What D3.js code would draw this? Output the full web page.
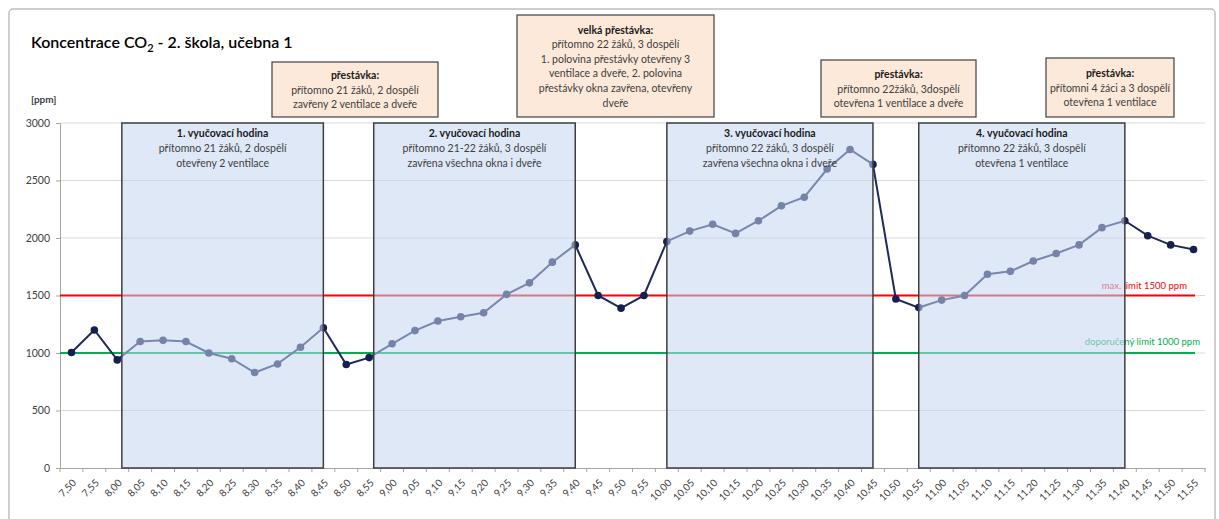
<!DOCTYPE html>
<html><head><meta charset="utf-8">
<script src="https://cdn.jsdelivr.net/npm/d3@7"></script>
<style>
html,body{margin:0;padding:0;background:#fff;}
svg{display:block;font-family:Lato,"Open Sans",sans-serif;}
</style></head>
<body><svg id="c" width="1219" height="519"></svg>
<script>
const categories = ["7,50","7,55","8,00","8,05","8,10","8,15","8,20","8,25","8,30","8,35","8,40","8,45","8,50","8,55",
  "9,00","9,05","9,10","9,15","9,20","9,25","9,30","9,35","9,40","9,45","9,50","9,55",
  "10,00","10,05","10,10","10,15","10,20","10,25","10,30","10,35","10,40","10,45","10,50","10,55",
  "11,00","11,05","11,10","11,15","11,20","11,25","11,30","11,35","11,40","11,45","11,50","11,55"];
const co2 = [1005,1200,940,1100,1110,1100,1000,950,830,905,1050,1220,900,960,
  1080,1195,1278,1315,1350,1510,1610,1790,1940,1500,1390,1500,
  1970,2060,2120,2040,2150,2280,2355,2600,2770,2640,1470,1395,
  1460,1500,1685,1710,1800,1865,1940,2090,2150,2020,1940,1900];
const yTicks = [0,500,1000,1500,2000,2500,3000];
const limitValues = [1500,1000];
const limitLabels = ["max. limit 1500 ppm","doporučený limit 1000 ppm"];
const lessonStart = ["8,01","8,56","10,00","10,55"];
const lessonEnd = ["8,45","9,40","10,45","11,40"];
const lessonTitles = ["1. vyučovací hodina","2. vyučovací hodina","3. vyučovací hodina","4. vyučovací hodina"];
const lessonText = [
  ["přítomno 21 žáků, 2 dospělí","otevřeny 2 ventilace"],
  ["přítomno 21-22 žáků, 3 dospělí","zavřena všechna okna i dveře"],
  ["přítomno 22 žáků, 3 dospělí","zavřena všechna okna i dveře"],
  ["přítomno 22 žáků, 3 dospělí","otevřena 1 ventilace"]];
const breakTitles = ["přestávka:","velká přestávka:","přestávka:","přestávka:"];
const breakText = [
  ["přítomno 21 žáků, 2 dospělí","zavřeny 2 ventilace a dveře"],
  ["přítomno 22 žáků, 3 dospělí","1. polovina přestávky otevřeny 3","ventilace a dveře, 2. polovina","přestávky okna zavřena, otevřeny","dveře"],
  ["přítomno 22žáků, 3dospělí","otevřena 1 ventilace a dveře"],
  ["přítomni 4 žáci a 3 dospělí","otevřena 1 ventilace"]];

// layout
const L = {left:60, right:1205, top:123, bottom:468};
const breakBoxes = [[272,62,166,55],[517,15,197,102],[821,60,155,57],[1046,58,128,59]];
const limitColors = ["#ff0000","#00b050"];

const svg = d3.select("#c");
svg.append("rect").attr("x",9).attr("y",9).attr("width",1206).attr("height",520)
  .attr("rx",4).attr("fill","#fff").attr("stroke","#bfbfbf").attr("stroke-width",1.5);

const x = d3.scaleBand().domain(categories).range([L.left,L.right]).padding(0);
const bw = x.bandwidth();
const cx = c => x(c)+bw/2;
const toMin = s => { const [h,m] = s.split(",").map(Number); return h*60+m; };
const m0 = toMin(categories[0]);
const tx = s => L.left + bw*((toMin(s)-m0)/5 + 0.5);
const y = d3.scaleLinear().domain([0,3000]).range([L.bottom,L.top]);

svg.append("g").selectAll("line").data(yTicks.filter(d=>d>0)).join("line")
  .attr("x1",L.left).attr("x2",L.right).attr("y1",d=>y(d)).attr("y2",d=>y(d))
  .attr("stroke","#d9d9d9").attr("stroke-width",1);

const ya = svg.append("g").attr("transform",`translate(${L.left},0)`)
  .call(d3.axisLeft(y).tickValues(yTicks).tickSize(4).tickFormat(d3.format("d")));
ya.select(".domain").attr("stroke","#a6a6a6");
ya.selectAll(".tick line").attr("stroke","#a6a6a6");
ya.selectAll("text").attr("fill","#404040").attr("font-size",10.5).attr("font-family","Lato").attr("dx",-3);

const xa = svg.append("g").attr("transform",`translate(0,${L.bottom})`)
  .call(d3.axisBottom(x).tickSize(0));
xa.select(".domain").attr("stroke","#a6a6a6");
xa.selectAll(".tick line").remove();
xa.append("g").selectAll("line").data(d3.range(categories.length+1)).join("line")
  .attr("x1",i=>L.left+i*bw).attr("x2",i=>L.left+i*bw).attr("y1",0).attr("y2",4)
  .attr("stroke","#a6a6a6");
xa.selectAll(".tick text").attr("fill","#404040").attr("font-size",10).attr("font-family","Lato")
  .attr("text-anchor","end").attr("transform","translate(3,13) rotate(-45)").attr("dy","0.35em").attr("y",0);

limitValues.forEach((v,i)=>{
  svg.append("line").attr("x1",L.left).attr("x2",1195).attr("y1",y(v)).attr("y2",y(v))
    .attr("stroke",limitColors[i]).attr("stroke-width",2);
});
svg.append("text").attr("x",1187).attr("y",y(limitValues[0])-7).attr("text-anchor","end")
  .attr("fill",limitColors[0]).attr("font-size",9.5).text(limitLabels[0]);
svg.append("text").attr("x",1200).attr("y",y(limitValues[1])-8).attr("text-anchor","end")
  .attr("fill",limitColors[1]).attr("font-size",9.5).text(limitLabels[1]);

svg.append("path").datum(co2)
  .attr("d",d3.line().x((d,i)=>cx(categories[i])).y(d=>y(d)))
  .attr("fill","none").attr("stroke","#1f2a5c").attr("stroke-width",2);
svg.append("g").selectAll("circle").data(co2).join("circle")
  .attr("cx",(d,i)=>cx(categories[i])).attr("cy",d=>y(d)).attr("r",3.8)
  .attr("fill","#16204f");

lessonStart.forEach((s,i)=>{
  const x0 = tx(s), x1 = tx(lessonEnd[i]);
  const g = svg.append("g");
  g.append("rect").attr("x",x0).attr("y",L.top).attr("width",x1-x0).attr("height",L.bottom-L.top)
    .attr("fill","#c2d6f0").attr("fill-opacity",0.55).attr("stroke","#3f3f3f").attr("stroke-width",1.5);
  const mid = (x0+x1)/2;
  g.append("text").attr("x",mid).attr("y",137).attr("text-anchor","middle").attr("font-size",10.5)
    .attr("font-weight","bold").attr("fill","#1a1a1a").text(lessonTitles[i]);
  lessonText[i].forEach((t,j)=>{
    g.append("text").attr("x",mid).attr("y",152+j*15).attr("text-anchor","middle").attr("font-size",10.5)
      .attr("fill","#404040").text(t);
  });
});

breakBoxes.forEach((b,i)=>{
  const g = svg.append("g");
  g.append("rect").attr("x",b[0]).attr("y",b[1]).attr("width",b[2]).attr("height",b[3])
    .attr("fill","#fde9d9").attr("stroke","#404040").attr("stroke-width",1.2);
  const mid = b[0]+b[2]/2;
  const n = breakText[i].length+1;
  const lh = 14.6;
  const startY = b[1]+b[3]/2 - (n-1)*lh/2 + 4;
  g.append("text").attr("x",mid).attr("y",startY).attr("text-anchor","middle").attr("font-size",10.5)
    .attr("font-weight","bold").attr("fill","#1a1a1a").text(breakTitles[i]);
  breakText[i].forEach((t,j)=>{
    g.append("text").attr("x",mid).attr("y",startY+(j+1)*lh).attr("text-anchor","middle").attr("font-size",10.5)
      .attr("fill","#404040").text(t);
  });
});

const tt = svg.append("text").attr("x",31).attr("y",48).attr("font-size",16).attr("fill","#000")
  .attr("font-weight",600);
tt.append("tspan").text("Koncentrace CO");
tt.append("tspan").attr("font-size",11).attr("dy",4).text("2");
tt.append("tspan").attr("dy",-4).text(" - 2. škola, učebna 1");
svg.append("text").attr("x",31).attr("y",103).attr("font-size",10).attr("font-weight","bold")
  .attr("fill","#404040").text("[ppm]");
</script></body></html>
